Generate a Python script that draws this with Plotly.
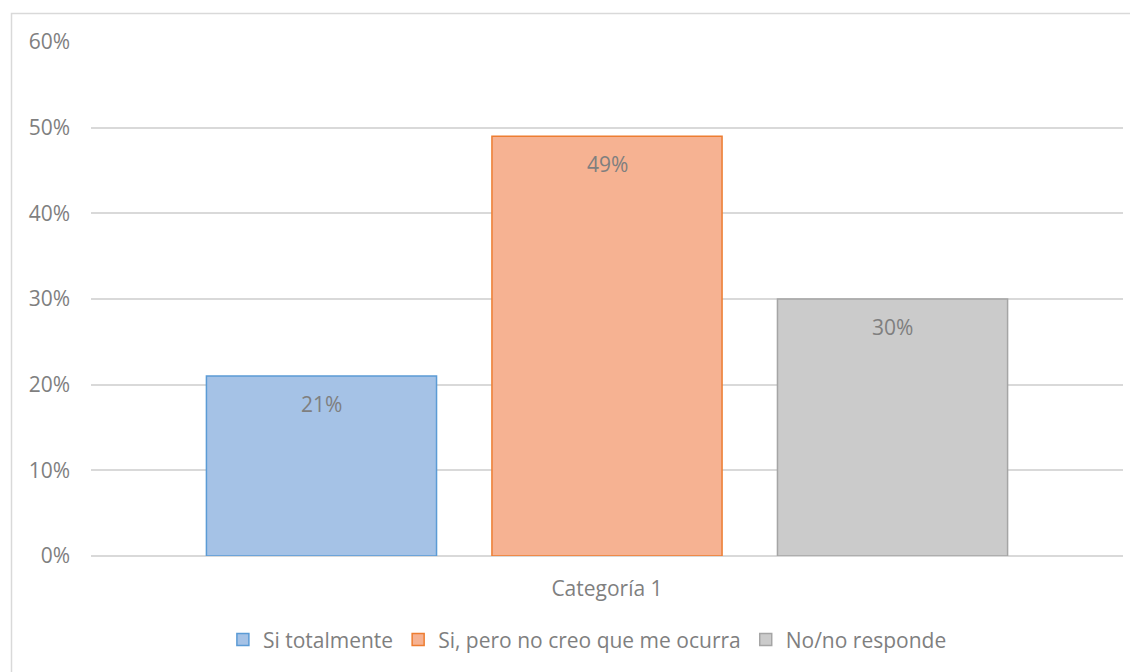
import plotly.graph_objects as go

categories = ["Categoría 1"]
series_names = ["Si totalmente", "Si, pero no creo que me ocurra", "No/no responde"]
series_values = [[0.21], [0.49], [0.30]]
y_ticks = [0, 0.1, 0.2, 0.3, 0.4, 0.5, 0.6]
y_ticktext = ["0%", "10%", "20%", "30%", "40%", "50%", "60%"]

fills = ["#A5C2E6", "#F6B292", "#CBCBCB"]
edges = ["#5B9BD5", "#ED7D31", "#A5A5A5"]

# the page body adds an 8px offset, so the figure is drawn 8px smaller
OFF = 8
W, H = 1138 - OFF, 672 - OFF
ML, MR, MT, MB = 91 - OFF, 15, 42 - OFF, 116
BARGAP = 0.17
BARGROUPGAP = 0.194
FONT = "Open Sans"
FS = 21
TXT = "#7F7F7F"

fig = go.Figure()
for name, vals, fc, ec in zip(series_names, series_values, fills, edges):
    fig.add_trace(go.Bar(
        x=categories, y=vals, name=name,
        marker=dict(color=fc, line=dict(color=ec, width=1.5)),
    ))

# data labels just inside the top of each bar
plot_w = W - ML - MR
plot_h = H - MT - MB
n = len(series_names)
slot = plot_w * (1 - BARGAP) / n
annotations = []
for i, vals in enumerate(series_values):
    for c, v in zip(categories, vals):
        annotations.append(dict(
            x=c, y=v, xref="x", yref="y",
            text=f"{round(v*100)}%", showarrow=False,
            xshift=(i - (n - 1) / 2) * slot, yshift=-28,
            yanchor="middle",
            font=dict(family=FONT, size=FS, color=TXT),
        ))

fig.update_layout(
    width=W, height=H,
    margin=dict(l=ML, r=MR, t=MT, b=MB),
    paper_bgcolor="white", plot_bgcolor="white",
    barmode="group", bargap=BARGAP, bargroupgap=BARGROUPGAP,
    font=dict(family=FONT, size=FS, color=TXT),
    showlegend=True,
    legend=dict(orientation="h", x=0.481, xanchor="center", y=-0.163, yanchor="middle",
                font=dict(family=FONT, size=FS, color=TXT), traceorder="normal"),
    annotations=annotations,
    shapes=[dict(type="rect", xref="paper", yref="paper",
                 x0=(11.5 - OFF - ML) / plot_w, x1=1.05,
                 y0=-0.5, y1=(H - MB - (13.5 - OFF)) / plot_h,
                 line=dict(color="#D9D9D9", width=1.5), fillcolor="rgba(0,0,0,0)",
                 layer="below")],
)
fig.update_xaxes(range=[-0.5, 0.5], showgrid=False, showline=False, zeroline=False,
                 ticks="", ticklabelstandoff=18,
                 tickfont=dict(family=FONT, size=FS, color=TXT))
fig.update_yaxes(range=[0, 0.6], tickvals=y_ticks, ticktext=y_ticktext,
                 showgrid=True, gridcolor="#D9D9D9", gridwidth=1.5,
                 zeroline=True, zerolinecolor="#D9D9D9", zerolinewidth=1.5,
                 showline=False, ticks="", ticklabelstandoff=20,
                 tickfont=dict(family=FONT, size=FS, color=TXT))

fig.write_html("out.html")
